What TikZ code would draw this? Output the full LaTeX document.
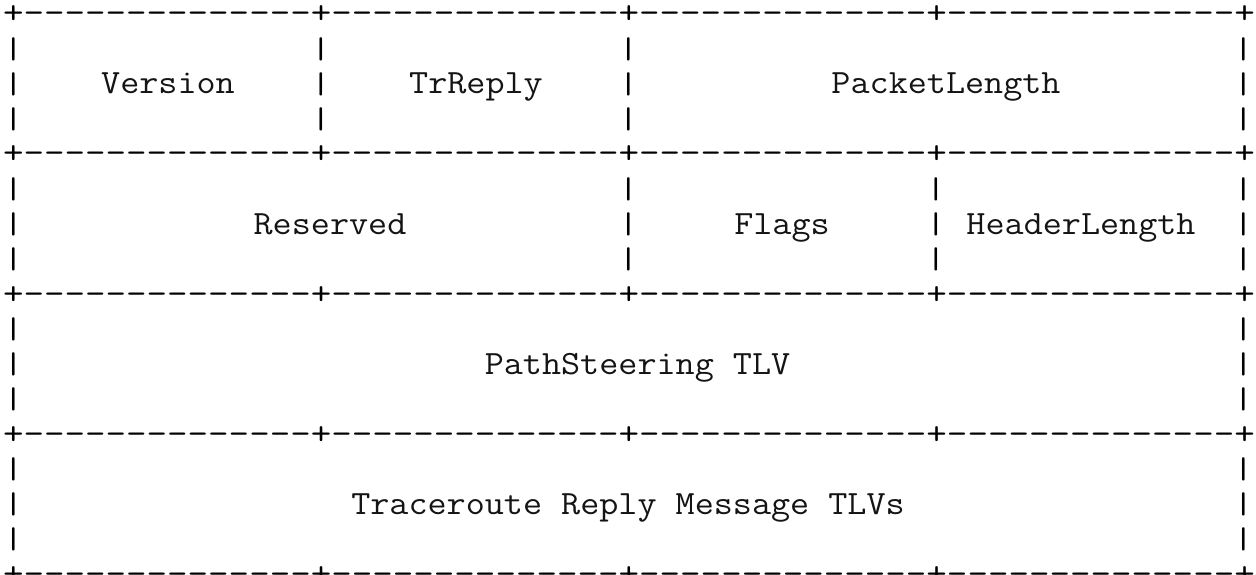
\documentclass[tikz,border=0pt]{standalone}
\def\seg{--------------}
\begin{document}
\begin{tikzpicture}[x=1pt,y=-1pt,
  basetxt/.style={font=\ttfamily\fontsize{34pt}{35pt}\selectfont, inner sep=0pt, outer sep=0pt, text=black, transform shape},
  txt/.style={basetxt, xscale=1.172},
  rulerow/.style={txt, anchor=base west},
  barchar/.style={txt, anchor=west, yscale=0.88},
  lbl/.style={basetxt, xscale=1.09, anchor=base, text=black!92}]
\useasboundingbox[fill=white] (0,0) rectangle (1256,575);
% horizontal border rows
\foreach \r/\y in {1/24,5/164,9/304,13/444,17/584}
  \node[rulerow] (border\r) at (3,\y) {+\seg+\seg+\seg+\seg+};
% vertical bars
\foreach \y in {49,84,119}
  \foreach \c in {0,15,30,60}
    \node[barchar] (barA-\y-\c) at ({3+20.502*\c},\y) {|};
\foreach \y in {189,224,259}
  \foreach \c in {0,30,45,60}
    \node[barchar] (barB-\y-\c) at ({3+20.502*\c},\y) {|};
\foreach \y in {329,364,399,469,504,539}
  \foreach \c in {0,60}
    \node[barchar] (barC-\y-\c) at ({3+20.502*\c},\y) {|};
% labels
\node[lbl] (version) at (168,94) {Version};
\node[lbl] (trreply) at (476,94) {TrReply};
\node[lbl] (packetlength) at (946,94) {PacketLength};
\node[lbl] (reserved) at (330,234) {Reserved};
\node[lbl] (flags) at (782,234) {Flags};
\node[lbl] (headerlength) at (1081,234) {HeaderLength};
\node[lbl] (pathsteering) at (637.5,374) {PathSteering TLV};
\node[lbl] (tlvs) at (628,514) {Traceroute Reply Message TLVs};
\end{tikzpicture}
\end{document}
